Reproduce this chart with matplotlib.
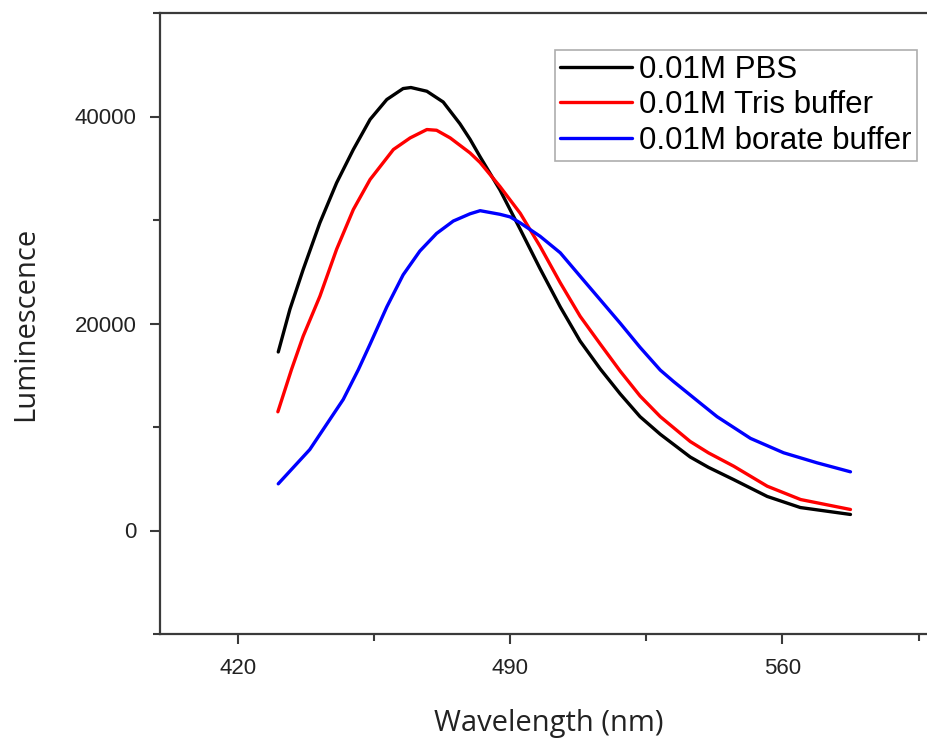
import numpy as np
import matplotlib
matplotlib.use('Agg')
import matplotlib.pyplot as plt
from matplotlib.ticker import MultipleLocator

# values
pbs_wl = [430.4, 433.4, 436.8, 441.1, 445.4, 449.7, 454.0, 458.3, 462.5, 464.5,
          468.6, 472.8, 477.1, 479.7, 482.3, 487.4, 492.6, 497.7, 502.9, 508.0,
          513.2, 518.3, 523.4, 528.6, 536.3, 541.0, 547.4, 556.1, 564.6, 577.5]
pbs_lum = [17250, 21380, 25210, 29730, 33590, 36810, 39710, 41640, 42700, 42800,
           42440, 41400, 39300, 37800, 36100, 32900, 29100, 25300, 21600, 18300,
           15600, 13200, 11000, 9300, 7100, 6100, 4930, 3290, 2220, 1550]

tris_wl = [430.3, 433.8, 436.8, 441.1, 445.4, 449.7, 454.0, 460.0, 464.3, 468.6,
           471.1, 474.6, 479.7, 482.3, 487.4, 492.6, 497.7, 502.9, 508.0, 513.2,
           518.3, 523.4, 528.6, 536.3, 541.0, 547.5, 556.1, 564.7, 577.5]
tris_lum = [11470, 15550, 18770, 22630, 27170, 31010, 33910, 36810, 37930, 38740,
            38670, 37930, 36480, 35550, 33230, 30650, 27460, 23930, 20700, 18000,
            15400, 13000, 11000, 8600, 7500, 6210, 4280, 2990, 2030]

borate_wl = [430.4, 438.5, 447.1, 451.0, 454.0, 458.3, 462.5, 466.8, 471.1, 475.4,
             479.7, 482.3, 487.4, 490.0, 492.6, 497.7, 502.9, 508.0, 513.2, 518.3,
             523.4, 528.6, 532.0, 538.9, 543.2, 551.8, 560.3, 568.9, 577.5]
borate_lum = [4510, 7820, 12660, 15550, 18000, 21600, 24700, 27000, 28700, 29900,
              30600, 30900, 30550, 30300, 29720, 28430, 26830, 24570, 22280, 20030,
              17700, 15500, 14400, 12300, 11000, 8900, 7510, 6540, 5670]

labels = ['0.01M PBS', '0.01M Tris buffer', '0.01M borate buffer']
colors = ['black', '#ff0000', '#0000ff']

plt.rcParams['font.family'] = ['Liberation Sans', 'DejaVu Sans']

fig = plt.figure(figsize=(9.28, 7.43), dpi=100)
ax = fig.add_axes([160 / 928, 1 - 634 / 743, (938 - 160) / 928, (634 - 13) / 743])

series = [(pbs_wl, pbs_lum), (tris_wl, tris_lum), (borate_wl, borate_lum)]
for (wl, lum), lab, c in zip(series, labels, colors):
    ax.plot(wl, lum, color=c, lw=2.4, label=lab,
            solid_capstyle='round', solid_joinstyle='round')

ax.set_xlim(400, 600)
ax.set_ylim(-10000, 50000)
ax.xaxis.set_major_locator(MultipleLocator(70))
ax.xaxis.set_minor_locator(MultipleLocator(35))
ax.yaxis.set_major_locator(MultipleLocator(20000))
ax.yaxis.set_minor_locator(MultipleLocator(10000))

spine_col = '#3a3a3a'
for s in ax.spines.values():
    s.set_linewidth(1.6)
    s.set_color(spine_col)
ax.tick_params(which='both', direction='out', color=spine_col, width=1.5,
               top=False, right=False)
ax.tick_params(which='major', length=7, labelsize=16, labelcolor='#222222', pad=10)
ax.tick_params(which='minor', length=5)

ax.set_xlabel('Wavelength (nm)', fontsize=21, family='Open Sans', color='#222222', labelpad=22)
ax.set_ylabel('Luminescence', fontsize=21, family='Open Sans', color='#222222', labelpad=25)

leg = ax.legend(loc='upper left', bbox_to_anchor=(555 / 928, 1 - 50 / 743),
                bbox_transform=fig.transFigure, fontsize=22.5, frameon=True,
                fancybox=False, edgecolor='#999999', handlelength=2.3,
                handletextpad=0.25, labelspacing=0.18, borderpad=0.15,
                borderaxespad=0)
leg.get_frame().set_linewidth(1.2)

fig.savefig('out.png', dpi=100)
